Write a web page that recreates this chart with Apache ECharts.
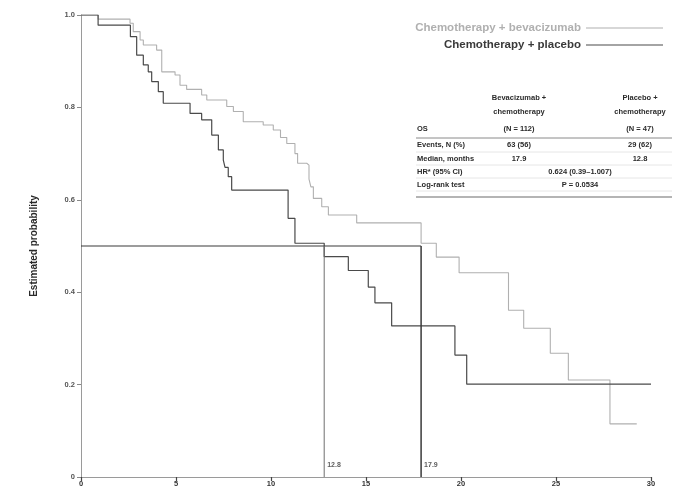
<!DOCTYPE html>
<html>
<head>
<meta charset="utf-8">
<script src="https://cdn.jsdelivr.net/npm/echarts@6/dist/echarts.min.js"></script>
<style>
  html, body { margin: 0; padding: 0; background: #fff; }
  #chart { width: 687px; height: 494px; }
</style>
</head>
<body>
<div id="chart"></div>
<script>
// Kaplan–Meier overall survival, months vs estimated probability
const seriesNames = ['Chemotherapy + bevacizumab', 'Chemotherapy + placebo'];

// [month, survival probability] at each step
const bevacizumabCurve = [
  [0, 1], [0.9, 0.991], [2.58, 0.982], [2.75, 0.964], [3.11, 0.946], [3.28, 0.935],
  [3.98, 0.924], [4.25, 0.877], [4.95, 0.870], [5.21, 0.848], [5.56, 0.839],
  [6.35, 0.827], [6.62, 0.816], [7.67, 0.802], [8.02, 0.791], [8.54, 0.769],
  [9.59, 0.762], [10.12, 0.751], [10.5, 0.735], [10.83, 0.722], [11.26, 0.700],
  [11.4, 0.679], [11.88, 0.675], [12.0, 0.645], [12.1, 0.628], [12.23, 0.603],
  [12.67, 0.585], [13.02, 0.567], [14.51, 0.550], [17.9, 0.506], [18.7, 0.476],
  [19.9, 0.442], [22.5, 0.361], [23.3, 0.322], [24.7, 0.268], [25.65, 0.210],
  [27.84, 0.115], [29.25, 0.115]
];
const placeboCurve = [
  [0, 1], [0.9, 0.978], [2.6, 0.953], [2.93, 0.913], [3.28, 0.892], [3.54, 0.877],
  [3.72, 0.856], [4.07, 0.834], [4.33, 0.809], [5.74, 0.787], [6.35, 0.773],
  [6.88, 0.740], [7.23, 0.708], [7.49, 0.686], [7.58, 0.670], [7.75, 0.650],
  [7.93, 0.621], [10.9, 0.560], [11.26, 0.506], [12.8, 0.477], [14.07, 0.447],
  [15.12, 0.411], [15.47, 0.377], [16.35, 0.327], [19.68, 0.264], [20.3, 0.201],
  [30, 0.201]
];

const medianLevel = 0.5;
const medianPlacebo = 12.8;
const medianBevacizumab = 17.9;

const xTicks = [0, 5, 10, 15, 20, 25, 30];
const yTickLabels = { 0: '0', 0.2: '0.2', 0.4: '0.4', 0.6: '0.6', 0.8: '0.8', 1: '1.0' };

// Summary table
const tableColumnHeads = [
  ['Bevacizumab +', 'chemotherapy', '(N = 112)'],
  ['Placebo +', 'chemotherapy', '(N = 47)']
];
const tableRowLabels = ['OS', 'Events, N (%)', 'Median, months', 'HR* (95% CI)', 'Log-rank test'];
const tableEvents = ['63 (56)', '29 (62)'];
const tableMedians = ['17.9', '12.8'];
const tableHazard = '0.624 (0.39\u20131.007)';
const tableLogRank = 'P = 0.0534';

const FONT = '"Liberation Sans", Arial, sans-serif';
const LIGHT = '#b0b0b0';
const DARK = '#4a4a4a';

// ---- table graphics ----
const tbl = { left: 416, right: 672, col1: 519, col2: 640, mid: 580 };
const headY = [98, 112, 129];
const rowY = [129, 145, 159, 172, 185];
const tText = (x, y, s, align, weight) => ({
  type: 'text', x: x, y: y,
  style: { text: s, fill: '#2a2a2a', font: (weight || 'bold') + ' 7.5px ' + FONT,
           textAlign: align || 'left', textVerticalAlign: 'middle' },
  silent: true
});
const tLine = (y, color, w) => ({
  type: 'line', shape: { x1: tbl.left, y1: y, x2: tbl.right, y2: y },
  style: { stroke: color, lineWidth: w }, silent: true
});
const graphics = [];
tableColumnHeads.forEach((lines, ci) => {
  const cx = ci === 0 ? tbl.col1 : tbl.col2;
  lines.forEach((s, li) => graphics.push(tText(cx, headY[li], s, 'center')));
});
tableRowLabels.forEach((s, ri) => graphics.push(tText(tbl.left + 1, rowY[ri], s, 'left')));
graphics.push(tText(tbl.col1, rowY[1], tableEvents[0], 'center'));
graphics.push(tText(tbl.col2, rowY[1], tableEvents[1], 'center'));
graphics.push(tText(tbl.col1, rowY[2], tableMedians[0], 'center'));
graphics.push(tText(tbl.col2, rowY[2], tableMedians[1], 'center'));
graphics.push(tText(tbl.mid, rowY[3], tableHazard, 'center'));
graphics.push(tText(tbl.mid, rowY[4], tableLogRank, 'center'));
graphics.push(tLine(138, '#8a8a8a', 1));
[152, 165, 178, 191].forEach(y => graphics.push(tLine(y, '#e0e0e0', 0.8)));
graphics.push(tLine(197, '#6a6a6a', 1.2));

const chart = echarts.init(document.getElementById('chart'), null, { renderer: 'canvas' });

chart.setOption({
  backgroundColor: '#ffffff',
  animation: false,
  textStyle: { fontFamily: FONT },
  grid: { left: 81, right: 36, top: 15, bottom: 17, containLabel: false },
  legend: {
    orient: 'vertical', right: 24, top: 22, align: 'right', padding: 0,
    icon: 'rect', itemWidth: 77, itemHeight: 1.2, itemGap: 5,
    textStyle: { fontFamily: FONT, fontSize: 11.5, fontWeight: 'bold' },
    data: [
      { name: seriesNames[0], textStyle: { color: '#b0b0b0' } },
      { name: seriesNames[1], textStyle: { color: '#3a3a3a' } }
    ]
  },
  xAxis: {
    type: 'value', min: 0, max: 30, interval: 5,
    axisLine: { show: true, lineStyle: { color: '#9a9a9a', width: 1 } },
    axisTick: { show: true, length: 4, lineStyle: { color: '#444', width: 1.2 } },
    axisLabel: {
      color: '#333', fontSize: 7.5, fontWeight: 'bold', margin: 3,
      formatter: v => xTicks.includes(v) ? String(v) : ''
    },
    splitLine: { show: false }
  },
  yAxis: {
    type: 'value', min: 0, max: 1, interval: 0.2,
    name: 'Estimated probability', nameLocation: 'middle', nameGap: 42,
    nameTextStyle: { color: '#2a2a2a', fontSize: 10, fontWeight: 'bold', fontFamily: FONT },
    axisLine: { show: true, lineStyle: { color: '#9a9a9a', width: 1 } },
    axisTick: { show: true, length: 4, lineStyle: { color: '#888', width: 1 } },
    axisLabel: {
      color: '#555', fontSize: 7.5, fontWeight: 'bold', margin: 6,
      formatter: v => yTickLabels[Math.round(v * 10) / 10]
    },
    splitLine: { show: false }
  },
  series: [
    {
      name: seriesNames[0], type: 'line', step: 'end', data: bevacizumabCurve,
      symbol: 'none', color: LIGHT, lineStyle: { color: LIGHT, width: 1.1 }, z: 3
    },
    {
      name: seriesNames[1], type: 'line', step: 'end', data: placeboCurve,
      symbol: 'none', color: DARK, lineStyle: { color: DARK, width: 1.2 }, z: 4
    },
    {
      name: 'median-level', type: 'line', symbol: 'none',
      data: [[0, medianLevel], [medianBevacizumab, medianLevel]],
      lineStyle: { color: '#3a3a3a', width: 1.2 }, z: 5, silent: true
    },
    {
      name: 'median-placebo', type: 'line', symbol: 'none',
      data: [[medianPlacebo, medianLevel], [medianPlacebo, 0]],
      lineStyle: { color: '#6e6e6e', width: 1 }, z: 5, silent: true
    },
    {
      name: 'median-bevacizumab', type: 'line', symbol: 'none',
      data: [[medianBevacizumab, medianLevel], [medianBevacizumab, 0]],
      lineStyle: { color: '#3a3a3a', width: 1.5 }, z: 5, silent: true
    },
    {
      name: 'median-labels', type: 'scatter', symbolSize: 0, silent: true,
      data: [[medianPlacebo, 0.025], [medianBevacizumab, 0.025]],
      label: {
        show: true, position: 'right', distance: 3,
        color: '#333', fontSize: 7, fontWeight: 'bold', fontFamily: FONT,
        formatter: p => p.value[0].toFixed(1)
      }
    }
  ],
  graphic: graphics
});
</script>
</body>
</html>
